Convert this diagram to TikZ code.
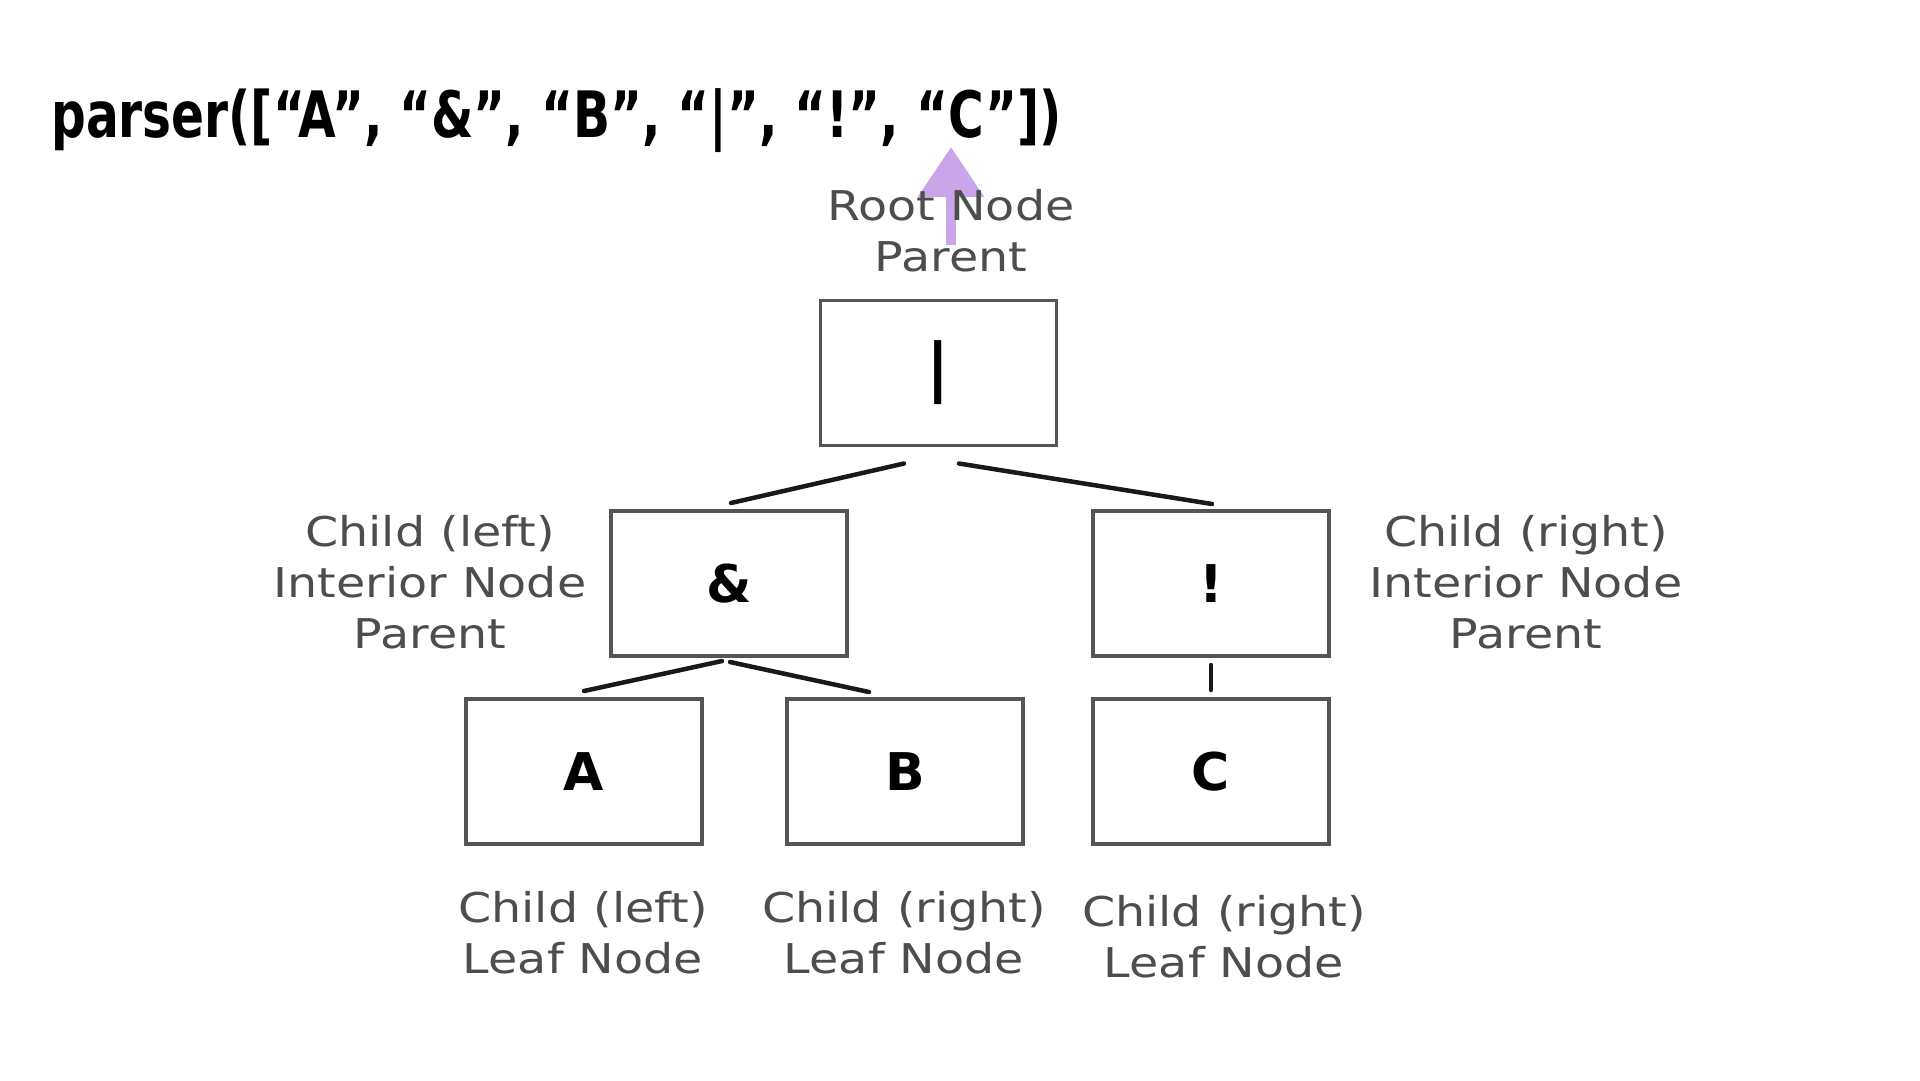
\documentclass[tikz,border=0pt]{standalone}
\usepackage{fontspec}
\usetikzlibrary{arrows.meta}
\setmainfont{DejaVu Sans}
\newfontfamily\titlefont[FakeStretch=0.76]{DejaVu Sans Bold}
\newfontfamily\labelfont[FakeStretch=1.16]{DejaVu Sans}
\newfontfamily\boxfont{DejaVu Sans Bold}
\definecolor{labelgray}{HTML}{4D4D4D}
\definecolor{boxgray}{HTML}{555555}
\definecolor{arrowpurple}{HTML}{C9A6EA}
\tikzset{
  treebox/.style={draw=boxgray, line width=3.5pt, minimum width=236pt, minimum height=145pt, inner sep=0pt, outer sep=0pt, font=\boxfont\fontsize{52}{60}\selectfont, text=black},
  lbl/.style={text=labelgray, align=center, font=\labelfont\fontsize{41}{51}\selectfont, inner sep=0pt},
  edge/.style={draw=black!90, line width=4.5pt, line cap=round},
}
\begin{document}
\begin{tikzpicture}[x=1pt,y=-1pt]
\path[fill=white] (0,0) rectangle (1920,1080);
\useasboundingbox (0,0) rectangle (1920,1080);

% title
\node[anchor=base west, inner sep=0pt, font=\titlefont\fontsize{64}{70}\selectfont] (title) at (51,137) {parser([“A”, “\&”, “B”, “|”, “!”, “C”])};

% arrow from root label to "C"
\coordinate (arrs) at (951,245);
\coordinate (arre) at (951,147);
\draw[arrowpurple, line width=10pt, -{Triangle[width=64pt,length=50pt]}] (arrs) -- (arre);

\node[lbl] (rootlbl) at (951,231) {Root Node\\Parent};

% boxes
\node[treebox, font=\boxfont\fontsize{64}{70}\selectfont] (root) at (938.5,373) {|};
\node[treebox] (l) at (729,583.5) {\&};
\node[treebox] (r) at (1211,583.5) {!};
\node[treebox] (A) at (584,771.5) {A};
\node[treebox] (B) at (905,771.5) {B};
\node[treebox] (C) at (1211,771.5) {C};

% edges
\draw[edge] ([xshift=-34.5pt,yshift=-18pt]root.south) -- ([xshift=2pt,yshift=8pt]l.north);
\draw[edge] ([xshift=20.5pt,yshift=-18pt]root.south) -- ([xshift=1pt,yshift=7pt]r.north);
\draw[edge] ([xshift=-7pt,yshift=-5pt]l.south) -- ([yshift=8pt]A.north);
\draw[edge] ([xshift=1pt,yshift=-6pt]l.south) -- ([xshift=-36pt,yshift=7pt]B.north);
\draw[edge] ([yshift=-9pt]r.south) -- ([yshift=9pt]C.north);

% labels
\node[lbl] (llbl) at (430,582) {Child (left)\\Interior Node\\Parent};
\node[lbl] (rlbl) at (1526,582) {Child (right)\\Interior Node\\Parent};
\node[lbl] (albl) at (583,933) {Child (left)\\Leaf Node};
\node[lbl] (blbl) at (904,933) {Child (right)\\Leaf Node};
\node[lbl] (clbl) at (1224,937) {Child (right)\\Leaf Node};
\end{tikzpicture}
\end{document}
